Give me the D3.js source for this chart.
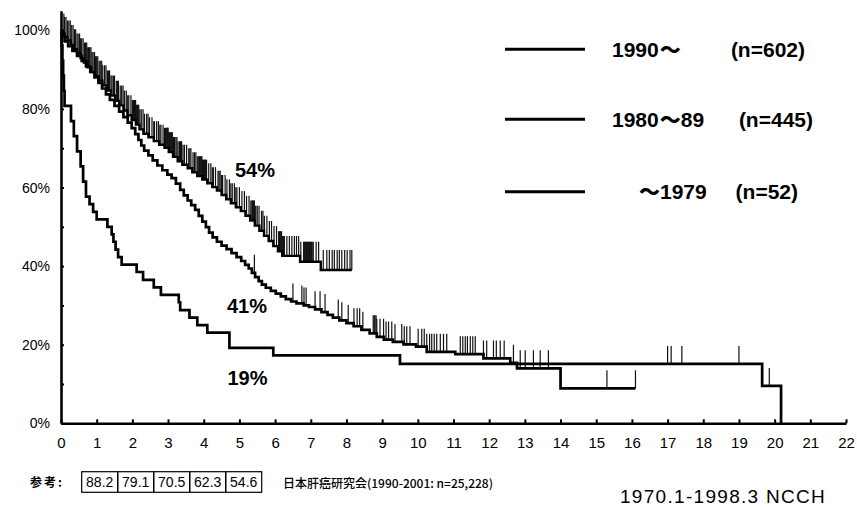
<!DOCTYPE html>
<html>
<head>
<meta charset="utf-8">
<script src="https://cdn.jsdelivr.net/npm/d3@7"></script>
<style>
  body { margin: 0; background: #fff; }
  svg { display: block; }
</style>
</head>
<body>
<svg id="chart" width="857" height="508"></svg>
<script>
// ---- data ----------------------------------------------------------------
const xTickValues = [0,1,2,3,4,5,6,7,8,9,10,11,12,13,14,15,16,17,18,19,20,21,22];
const yTickValues = [0,20,40,60,80,100];
const yMinorTickValues = [10,30,50,70,90];

const seriesNames = ["1990～", "1980～89", "～1979"];
const seriesCounts = ["(n=602)", "(n=445)", "(n=52)"];
const fiveYearLabels = ["54%", "41%", "19%"];

// Kaplan-Meier steps: [years, survival %] (value holds until the next step)
const surv1990 = [[0,100],[0.04,99.2],[0.1,98.3],[0.18,97.4],[0.27,96.3],[0.36,95.2],[0.45,94.1],[0.55,92.9],
  [0.64,91.8],[0.74,90.6],[0.85,89.4],[0.95,88.3],[1.05,87.2],[1.16,86.0],[1.28,84.7],[1.4,83.4],[1.52,82.1],
  [1.63,80.9],[1.75,79.6],[1.86,78.4],[1.98,77.2],[2.1,76.0],[2.2,74.8],[2.31,73.7],[2.45,72.8],[2.6,71.8],
  [2.75,70.9],[2.9,70.1],[3.02,69.0],[3.14,67.8],[3.27,66.7],[3.4,65.8],[3.55,64.9],[3.68,63.9],[3.82,62.9],
  [3.96,62.0],[4.1,61.1],[4.24,60.1],[4.37,59.2],[4.5,58.1],[4.63,57.0],[4.76,56.0],[4.9,55.0],[5.04,54.0],
  [5.17,52.8],[5.3,51.6],[5.43,50.3],[5.56,49.0],[5.69,47.7],[5.82,46.4],[5.95,45.1],[6.08,43.8],[6.2,42.6],
  [6.7,41.1],[7.28,39.0]];
const end1990 = 8.15;

const surv8089 = [[0,100],[0.03,98.5],[0.1,97.2],[0.2,96.0],[0.32,94.8],[0.45,93.5],[0.58,92.2],[0.7,90.8],
  [0.82,89.4],[0.94,88.0],[1.05,86.6],[1.15,85.2],[1.26,83.7],[1.37,82.3],[1.5,80.8],[1.63,79.3],[1.75,77.9],
  [1.87,76.5],[1.98,75.1],[2.08,73.6],[2.17,72.1],[2.25,70.7],[2.33,69.4],[2.45,68.2],[2.57,66.9],[2.7,65.6],
  [2.84,64.4],[2.98,63.3],[3.1,62.4],[3.22,61.0],[3.34,59.4],[3.44,58.0],[3.55,56.7],[3.65,55.5],[3.76,54.3],
  [3.86,52.8],[3.96,51.3],[4.06,49.9],[4.15,48.5],[4.25,47.3],[4.37,46.2],[4.5,45.2],[4.64,44.3],[4.78,43.3],
  [4.92,42.3],[5.05,41.3],[5.16,40.3],[5.26,39.4],[5.35,38.3],[5.44,37.2],[5.54,36.2],[5.63,35.3],[5.74,34.5],
  [5.88,33.7],[6.02,33.0],[6.16,32.3],[6.3,31.6],[6.45,31.0],[6.6,30.5],[6.8,30.0],[6.95,29.6],[7.12,29.0],
  [7.3,28.3],[7.47,27.6],[7.62,26.9],[7.8,26.2],[8.0,25.5],[8.2,24.7],[8.42,23.8],[8.65,22.9],[8.85,22.0],
  [9.05,21.3],[9.3,20.7],[9.6,20.1],[9.95,19.5],[10.25,18.2],[11.05,17.6],[11.84,16.5],[12.59,15.4],
  [12.78,14.0],[14.0,8.9]];
const end8089 = 16.1;

const surv1979 = [[0,100],[0.02,96.2],[0.04,92.3],[0.06,88.5],[0.08,84.6],[0.1,80.8],[0.28,76.9],[0.36,73.1],
  [0.45,69.2],[0.55,65.4],[0.62,61.5],[0.7,57.7],[0.8,55.8],[0.9,53.8],[1.0,51.9],[1.3,50.0],[1.42,48.1],
  [1.47,46.2],[1.53,44.2],[1.6,42.3],[1.7,40.4],[2.12,38.5],[2.3,36.5],[2.6,34.6],[2.8,32.7],[3.3,30.8],
  [3.34,28.8],[3.6,26.9],[3.82,25.0],[4.1,23.1],[4.72,19.2],[5.95,17.3],[9.5,15.1],[19.65,9.5],[20.18,0]];
const end1979 = 20.18;

// censored observations (years)
const censor1990 = [0.08,0.1,0.14,0.18,0.22,0.26,0.3,0.34,0.38,0.41,0.45,0.48,0.52,0.55,0.58,0.62,0.66,0.69,
  0.72,0.75,0.77,0.79,0.81,0.84,0.87,0.9,0.94,0.97,1.0,1.03,1.07,1.1,1.14,1.17,1.22,1.26,1.3,1.33,1.36,1.4,
  1.43,1.47,1.5,1.55,1.58,1.61,1.66,1.7,1.74,1.78,1.83,1.87,1.9,1.96,2.0,2.03,2.06,2.09,2.12,2.14,2.16,2.18,
  2.21,2.25,2.3,2.34,2.4,2.44,2.48,2.55,2.6,2.62,2.68,2.73,2.77,2.8,2.86,2.9,2.93,2.95,2.97,2.99,3.0,3.02,
  3.04,3.06,3.08,3.1,3.12,3.15,3.18,3.22,3.25,3.28,3.32,3.35,3.38,3.42,3.46,3.52,3.58,3.61,3.64,3.7,3.74,
  3.78,3.82,3.86,3.88,3.9,3.92,3.93,3.95,3.97,3.99,4.0,4.02,4.03,4.05,4.08,4.14,4.2,4.24,4.27,4.33,4.4,4.43,
  4.46,4.5,4.53,4.6,4.65,4.72,4.76,4.8,4.86,4.9,4.93,5.0,5.07,5.14,5.2,5.27,5.32,5.35,5.37,5.38,5.4,5.42,
  5.44,5.46,5.5,5.55,5.62,5.66,5.7,5.77,5.84,5.9,5.97,6.04,6.1,6.12,6.14,6.16,6.18,6.2,6.22,6.24,6.26,6.33,
  6.4,6.47,6.54,6.6,6.66,6.72,6.8,6.82,6.84,6.86,6.88,6.9,6.92,6.94,6.96,6.98,7.0,7.02,7.04,7.07,7.15,7.22,
  7.35,7.45,7.52,7.6,7.66,7.74,7.8,7.87,7.95,8.02,8.1,8.15];
const censor8089 = [5.42,6.5,6.75,6.81,6.87,7.12,7.26,7.4,7.77,7.87,8.05,8.21,8.3,8.37,8.46,8.75,8.78,8.8,
  8.83,8.85,8.94,9.04,9.11,9.18,9.27,9.36,9.55,9.62,9.69,9.78,10.01,10.11,10.18,10.25,10.33,10.39,10.46,
  10.53,10.63,10.72,10.81,11.19,11.26,11.33,11.39,11.47,11.54,11.61,11.84,11.93,12.12,12.2,12.31,12.42,
  12.68,12.87,13.01,13.24,13.43,13.66,15.3,16.1];
const censor1979 = [17.0,17.1,17.4,19.0,19.85];

// national registry reference: 1- to 5-year survival (%)
const registryValues = [88.2, 79.1, 70.5, 62.3, 54.6];

// ---- layout ----------------------------------------------------------------
const FONT = "'Liberation Sans', Arial, Helvetica, sans-serif";
const CJK = "'Noto Sans CJK JP', 'Noto Sans CJK SC', sans-serif";
const svg = d3.select("#chart");

const x = d3.scaleLinear().domain([0, 22]).range([61, 846]);
const y = d3.scaleLinear().domain([0, 105]).range([423.3, 10.7]);

// x axis
const xAxis = svg.append("g")
  .attr("transform", `translate(0,${y(0)})`)
  .call(d3.axisBottom(x).tickValues(xTickValues).tickFormat(d3.format("d"))
        .tickSizeInner(-4).tickSizeOuter(0).tickPadding(14));
xAxis.select(".domain").attr("stroke", "#000").attr("stroke-width", 2.6);
xAxis.selectAll(".tick line").attr("stroke", "#000").attr("stroke-width", 2);
xAxis.selectAll(".tick text").attr("font-family", FONT).attr("font-size", 15).attr("fill", "#000");

// y axis
const yAxis = svg.append("g")
  .attr("transform", `translate(${x(0)},0)`)
  .call(d3.axisLeft(y).tickValues(yTickValues).tickFormat(d => d + "%")
        .tickSizeInner(-3).tickSizeOuter(0).tickPadding(11));
yAxis.select(".domain").attr("stroke", "#000").attr("stroke-width", 2.6);
yAxis.selectAll(".tick line").attr("stroke", "#000").attr("stroke-width", 2);
yAxis.selectAll(".tick text").attr("font-family", FONT).attr("font-size", 14).attr("fill", "#000");

const yMinor = svg.append("g")
  .attr("transform", `translate(${x(0)},0)`)
  .call(d3.axisLeft(y).tickValues(yMinorTickValues).tickFormat("").tickSizeInner(-3).tickSizeOuter(0));
yMinor.select(".domain").remove();
yMinor.selectAll(".tick line").attr("stroke", "#000").attr("stroke-width", 2);

// survival curves with censoring marks
const series = [
  { steps: surv1990, end: end1990, censor: censor1990, width: 2.4, tickH: 20 },
  { steps: surv8089, end: end8089, censor: censor8089, width: 2.7, tickH: 18 },
  { steps: surv1979, end: end1979, censor: censor1979, width: 2.7, tickH: 18 }
];

const stepLine = d3.line().x(d => x(d[0])).y(d => y(d[1])).curve(d3.curveStepAfter);
const bisect = d3.bisector(d => d[0]).right;
const valueAt = (steps, t) => steps[Math.max(0, bisect(steps, t) - 1)][1];

series.forEach(s => {
  const pts = s.steps.concat([[s.end, s.steps[s.steps.length - 1][1]]]);
  svg.append("g").selectAll("line")
    .data(s.censor)
    .join("line")
    .attr("x1", t => x(t)).attr("x2", t => x(t))
    .attr("y1", t => y(valueAt(s.steps, t)))
    .attr("y2", t => y(valueAt(s.steps, t)) - s.tickH)
    .attr("stroke", "#111").attr("stroke-width", 1.2);
  svg.append("path")
    .attr("d", stepLine(pts))
    .attr("fill", "none")
    .attr("stroke", "#000")
    .attr("stroke-width", s.width)
    .attr("stroke-linejoin", "miter");
});

// 5-year survival labels
const fiveYearPos = [[255, 177], [247, 313], [247.5, 385]];
svg.append("g").selectAll("text")
  .data(fiveYearLabels)
  .join("text")
  .attr("x", (d, i) => fiveYearPos[i][0])
  .attr("y", (d, i) => fiveYearPos[i][1])
  .attr("text-anchor", "middle")
  .attr("font-family", FONT).attr("font-weight", "bold").attr("font-size", 20)
  .text(d => d);

// legend
const legendY = [49.3, 119.3, 191.7];
const legendTextX = [612, 612, 638];
const legendCountX = [805, 813, 798];
const lg = svg.append("g");
seriesNames.forEach((name, i) => {
  lg.append("line")
    .attr("x1", 505).attr("x2", 585)
    .attr("y1", legendY[i]).attr("y2", legendY[i])
    .attr("stroke", "#000").attr("stroke-width", 3);
  const t = lg.append("text")
    .attr("x", legendTextX[i]).attr("y", legendY[i] + 7.5)
    .attr("font-family", FONT).attr("font-weight", "bold").attr("font-size", 21);
  name.split(/(～)/).filter(p => p.length).forEach(p => {
    const ts = t.append("tspan").text(p);
    if (p === "～") ts.attr("font-family", CJK).attr("font-weight", 900).attr("dx", 1);
  });
  lg.append("text")
    .attr("x", legendCountX[i]).attr("y", legendY[i] + 7.5)
    .attr("text-anchor", "end")
    .attr("font-family", FONT).attr("font-weight", "bold").attr("font-size", 21)
    .text(seriesCounts[i]);
});

// registry reference row
svg.append("text")
  .attr("x", 30).attr("y", 487)
  .attr("font-family", CJK).attr("font-weight", "bold").attr("font-size", 12)
  .attr("letter-spacing", 2)
  .text("参考:");

const cell = d3.scaleBand().domain(d3.range(registryValues.length)).range([81.7, 261.7]);
const tbl = svg.append("g");
tbl.selectAll("rect")
  .data(registryValues)
  .join("rect")
  .attr("x", (d, i) => cell(i)).attr("y", 471.7)
  .attr("width", cell.bandwidth()).attr("height", 20.6)
  .attr("fill", "none").attr("stroke", "#000").attr("stroke-width", 1.2);
tbl.selectAll("text")
  .data(registryValues)
  .join("text")
  .attr("x", (d, i) => cell(i) + cell.bandwidth() / 2).attr("y", 487)
  .attr("text-anchor", "middle")
  .attr("font-family", FONT).attr("font-size", 14)
  .text(d => d3.format(".1f")(d));

svg.append("text")
  .attr("x", 283).attr("y", 488)
  .attr("font-family", CJK).attr("font-weight", 500).attr("font-size", 12)
  .text("日本肝癌研究会(1990-2001: n=25,228)");

svg.append("text")
  .attr("x", 620).attr("y", 503)
  .attr("font-family", FONT).attr("font-size", 19)
  .attr("letter-spacing", 1.3)
  .text("1970.1-1998.3  NCCH");
</script>
</body>
</html>
